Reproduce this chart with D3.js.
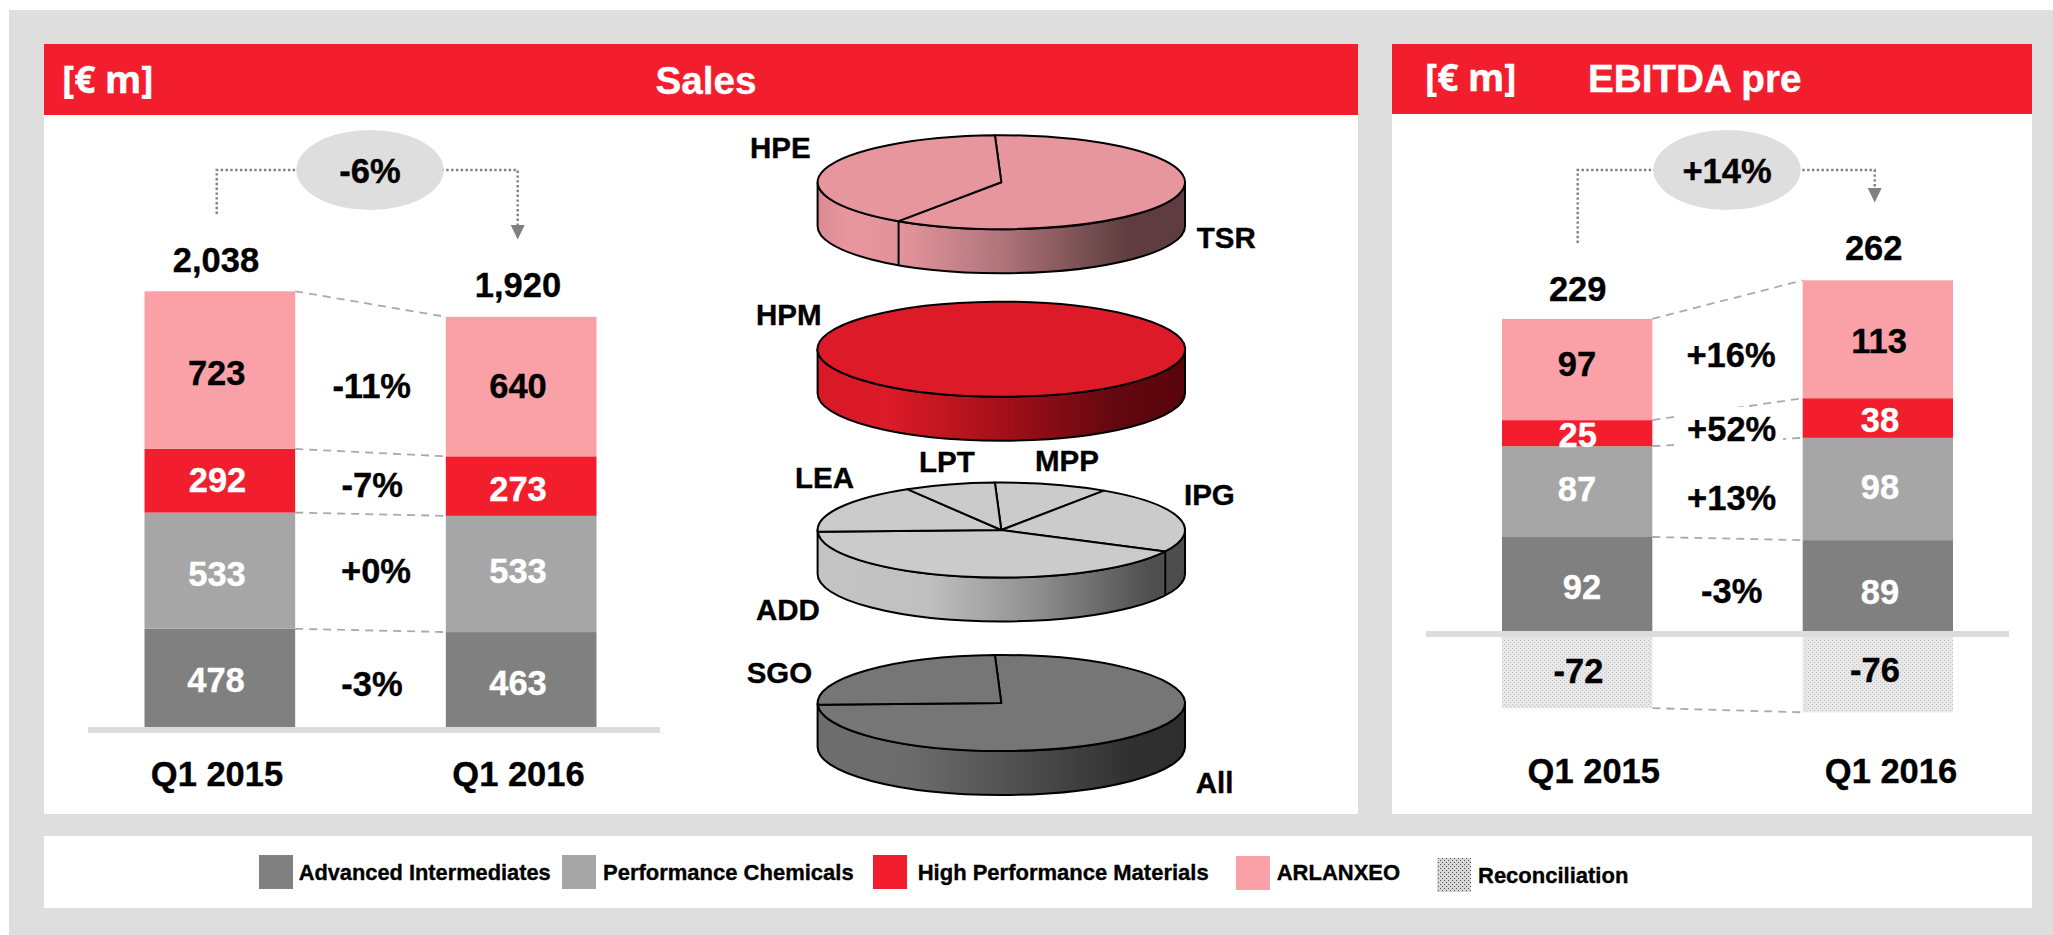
<!DOCTYPE html>
<html>
<head>
<meta charset="utf-8">
<script src="https://cdn.jsdelivr.net/npm/d3@7"></script>
<style>
html,body{margin:0;padding:0;background:#fff;overflow:hidden}
svg{display:block}
text{font-family:"Liberation Sans",Arial,sans-serif;font-weight:700;fill:#000}
</style>
</head>
<body>
<script>
// ---- data ----
const periods = ["Q1 2015", "Q1 2016"];
const segments = ["Advanced Intermediates", "Performance Chemicals", "High Performance Materials", "ARLANXEO"];
const salesAI = [478, 463];
const salesPC = [533, 533];
const salesHPM = [292, 273];
const salesARL = [723, 640];
const salesTotals = ["2,038", "1,920"];
const salesGrowth = ["-3%", "+0%", "-7%", "-11%"];
const salesChange = "-6%";
const ebitdaAI = [92, 89];
const ebitdaPC = [87, 98];
const ebitdaHPM = [25, 38];
const ebitdaARL = [97, 113];
const ebitdaRecon = [-72, -76];
const ebitdaTotals = ["229", "262"];
const ebitdaGrowth = ["-3%", "+13%", "+52%", "+16%"];
const ebitdaChange = "+14%";
const legendNames = ["Advanced Intermediates", "Performance Chemicals", "High Performance Materials", "ARLANXEO", "Reconciliation"];
// pie shares in percent, clockwise from the top
const pieHPE = [{k:"TSR", v:60}, {k:"HPE", v:40}];
const pieHPM = [{k:"HPM", v:100}];
const pieADD = [{k:"MPP", v:10}, {k:"IPG", v:23}, {k:"ADD", v:42}, {k:"LEA", v:17}, {k:"LPT", v:8}];
const pieAll = [{k:"All", v:75}, {k:"SGO", v:25}];

// ---- styles ----
const C = {bg:"#dedede", red:"#f31e2d", ai:"#808080", pc:"#a6a6a6", hpm:"#f31e2d", arl:"#faa1a7", dash:"#aaaaaa", dot:"#808080"};
const segColors = [C.ai, C.pc, C.hpm, C.arl];
const segText = ["#fff", "#fff", "#fff", "#000"];

const svg = d3.select("body").append("svg").attr("width", 2053).attr("height", 935);
const defs = svg.append("defs");

function hatch(id, bg, dot, size) {
  const p = defs.append("pattern").attr("id", id).attr("patternUnits", "userSpaceOnUse").attr("width", 4).attr("height", 4);
  p.append("rect").attr("width", 4).attr("height", 4).attr("fill", bg);
  p.append("rect").attr("x", 0).attr("y", 0).attr("width", size).attr("height", size).attr("fill", dot);
  p.append("rect").attr("x", 2).attr("y", 2).attr("width", size).attr("height", size).attr("fill", dot);
}
hatch("hatchBar", "#e8e8e8", "#c0c0c0", 1);
hatch("hatchKey", "#d8d8d8", "#4c4c4c", 1);

function rect(g, x0, y0, x1, y1, fill) {
  return g.append("rect").attr("x", x0).attr("y", y0).attr("width", x1 - x0).attr("height", y1 - y0).attr("fill", fill);
}
function label(g, t, x, y, o = {}) {
  const col = o.fill || "#000";
  return g.append("text").attr("x", x).attr("y", y).attr("text-anchor", o.anchor || "middle")
    .attr("font-size", o.size || 34.5).style("fill", col)
    .style("stroke", col).style("stroke-width", 0.35).text(t);
}

// ---- frame ----
rect(svg, 9, 10, 2053, 935, C.bg);
rect(svg, 44, 44, 1358, 814, "#fff");
rect(svg, 1392, 44, 2032, 814, "#fff");
rect(svg, 44, 836, 2032, 908, "#fff");
rect(svg, 44, 44, 1358, 115, C.red);
rect(svg, 1392, 44, 2032, 114, C.red);
const unit = {size: 37, anchor: "start", fill: "#fff"};
[[62, 93], [1425, 91]].forEach(p => {
  label(svg, "[€ m]", p[0], p[1], unit).style("font-family", '"Open Sans"').style("font-weight", 700);
});
label(svg, "Sales", 706, 94, {size: 38.7, fill: "#fff"});
label(svg, "EBITDA pre", 1588, 92, {size: 38.7, anchor: "start", fill: "#fff"});

// ---- stacked panels ----
function stacked(cfg) {
  const g = svg.append("g");
  const x = d3.scaleBand().domain(periods).range(cfg.xRange).paddingInner(0.5);
  const y = d3.scaleLinear().domain([0, cfg.domainMax]).range([cfg.y0, cfg.yTop]);
  const rows = periods.map((p, i) => {
    const r = {period: p};
    segments.forEach((s, j) => r[s] = cfg.series[j][i]);
    return r;
  });
  const layers = d3.stack().keys(segments)(rows);
  const [p0, p1] = periods;
  // connectors
  const dashLine = (a, b) => g.append("line")
    .attr("x1", x(p0) + x.bandwidth()).attr("x2", x(p1)).attr("y1", a).attr("y2", b)
    .attr("stroke", C.dash).attr("stroke-width", 1.8).attr("stroke-dasharray", "8,6");
  layers.forEach(l => dashLine(y(l[0][1]), y(l[1][1])));
  if (cfg.recon) dashLine(y(cfg.recon[0]), y(cfg.recon[1]));
  // bars
  layers.forEach((l, j) => {
    g.append("g").selectAll("rect").data(l).join("rect")
      .attr("x", d => x(d.data.period)).attr("width", x.bandwidth())
      .attr("y", d => y(d[1])).attr("height", d => y(d[0]) - y(d[1]))
      .attr("fill", segColors[j]);
  });
  if (cfg.recon) {
    g.append("g").selectAll("rect").data(cfg.recon).join("rect")
      .attr("x", (d, i) => x(periods[i])).attr("width", x.bandwidth())
      .attr("y", y(0)).attr("height", d => y(d) - y(0))
      .attr("fill", "url(#hatchBar)");
  }
  // baseline
  rect(g, cfg.axis[0], cfg.axisY[0], cfg.axis[1], cfg.axisY[1], "#dcdcdc");
  return {g, x, y};
}

const sales = stacked({
  xRange: [144.5, 596.5], domainMax: 2026, y0: 733, yTop: 291.3,
  series: [salesAI, salesPC, salesHPM, salesARL], axis: [88, 660], axisY: [727, 733]
});
const ebitda = stacked({
  xRange: [1502, 1953], domainMax: 301, y0: 633, yTop: 318.9,
  series: [ebitdaAI, ebitdaPC, ebitdaHPM, ebitdaARL], recon: ebitdaRecon,
  axis: [1426, 2009], axisY: [631, 637]
});
// white plate behind +52%
rect(ebitda.g, 1674, 407, 1783, 447, "#fff");

// value labels: [x, baseline] per bar for each segment
const salesLabelPos = [
  [[216, 692.3], [518, 695]], [[217, 585.7], [518, 582.7]],
  [[217.5, 491.7], [518, 500.7]], [[216.7, 385], [518, 398.3]]
];
const ebitdaLabelPos = [
  [[1582, 599], [1880, 604]], [[1577, 500.7], [1880, 498.7]],
  [[1577.7, 446.7], [1880, 431.7]], [[1577, 376], [1879, 352.7]]
];
[[sales, [salesAI, salesPC, salesHPM, salesARL], salesLabelPos],
 [ebitda, [ebitdaAI, ebitdaPC, ebitdaHPM, ebitdaARL], ebitdaLabelPos]].forEach(([chart, ser, pos]) => {
  ser.forEach((s, j) => s.forEach((v, i) => label(chart.g, v, pos[j][i][0], pos[j][i][1], {fill: segText[j]})));
});
ebitdaRecon.forEach((v, i) => label(ebitda.g, v, [1578.5, 1875][i], [682.7, 681.7][i]));

const salesGrowthPos = [[372, 695.7], [376, 583.3], [372.3, 497.3], [371.7, 398.3]];
salesGrowth.forEach((t, i) => label(sales.g, t, salesGrowthPos[i][0], salesGrowthPos[i][1]));
const ebitdaGrowthPos = [[1731.7, 602.7], [1731.7, 510], [1731.7, 440.7], [1731, 366.7]];
ebitdaGrowth.forEach((t, i) => label(ebitda.g, t, ebitdaGrowthPos[i][0], ebitdaGrowthPos[i][1]));

salesTotals.forEach((t, i) => label(sales.g, t, [216, 518][i], [271.7, 296.7][i]));
ebitdaTotals.forEach((t, i) => label(ebitda.g, t, [1577.7, 1873.7][i], [300.7, 260][i]));
periods.forEach((t, i) => {
  label(sales.g, t, [217, 518.5][i], 786);
  label(ebitda.g, t, [1593.8, 1891][i], 782.7);
});

// ---- change bubbles ----
function bubble(t, cx, xL, yL, xR, yArrow) {
  const g = svg.append("g");
  const cy = 170;
  g.append("path").attr("d", `M${xL},${yL}V${cy}H${cx}H${xR}V${yArrow}`)
    .attr("fill", "none").attr("stroke", C.dot).attr("stroke-width", 2.4).attr("stroke-dasharray", "2.4,2.4");
  g.append("path").attr("d", `M${xR - 7},${yArrow}H${xR + 7}L${xR},${yArrow + 14.5}Z`).attr("fill", C.dot);
  g.append("ellipse").attr("cx", cx).attr("cy", cy).attr("rx", 73.7).attr("ry", 40).attr("fill", C.bg);
  label(g, t, cx, 182.7);
}
bubble(salesChange, 370, 216.7, 214, 517.7, 225);
bubble(ebitdaChange, 1727, 1577.7, 243, 1874.7, 188);

// ---- 3D pies ----
const rad = 183.7, depth = 44, pcx = 1001.3;
const startAngle = -2 * Math.PI / 180;
function pie3d(id, data, cy, ry, top, stops) {
  const g = svg.append("g");
  const arcs = d3.pie().sort(null).value(d => d.v).startAngle(startAngle).endAngle(startAngle + 2 * Math.PI)(data);
  const grad = defs.append("linearGradient").attr("id", id).attr("gradientUnits", "userSpaceOnUse")
    .attr("x1", pcx - rad).attr("x2", pcx + rad).attr("y1", 0).attr("y2", 0);
  stops.forEach(s => grad.append("stop").attr("offset", s[0]).attr("stop-color", s[1]));
  const sw = 2;
  g.append("path")
    .attr("d", `M${pcx - rad},${cy}A${rad},${ry} 0 0 0 ${pcx + rad},${cy}V${cy + depth}A${rad},${ry} 0 0 1 ${pcx - rad},${cy + depth}Z`)
    .attr("fill", `url(#${id})`).attr("stroke", "#000").attr("stroke-width", sw).attr("stroke-linejoin", "round");
  // slice edges running down the front wall
  if (arcs.length > 1) arcs.forEach(a => {
    if (Math.cos(a.startAngle) < -0.1) {
      const ex = pcx + rad * Math.sin(a.startAngle), ey = cy - ry * Math.cos(a.startAngle);
      g.append("line").attr("x1", ex).attr("x2", ex).attr("y1", ey).attr("y2", ey + depth)
        .attr("stroke", "#000").attr("stroke-width", sw);
    }
  });
  const arc = d3.arc().innerRadius(0).outerRadius(rad);
  g.append("g").attr("transform", `translate(${pcx},${cy}) scale(1,${ry / rad})`)
    .selectAll("path").data(arcs).join("path")
    .attr("d", arc).attr("fill", top).attr("stroke", "#000").attr("stroke-width", sw)
    .attr("stroke-linejoin", "round").attr("vector-effect", "non-scaling-stroke");
}
pie3d("sideHPE", pieHPE, 182.2, 47, "#e8969e", [[0, "#d98a92"], [0.08, "#e8969e"], [0.25, "#e0929a"], [0.5, "#b0747b"], [0.75, "#724c4f"], [0.85, "#5e3c3f"], [1, "#5e3c3f"]]);
pie3d("sideHPM", pieHPM, 349.2, 47.5, "#dc1a28", [[0, "#d81926"], [0.2, "#dc1a28"], [0.5, "#a51019"], [0.8, "#640810"], [1, "#58040b"]]);
pie3d("sideADD", pieADD, 530, 47.5, "#cbcbcb", [[0, "#c4c4c4"], [0.3, "#c0c0c0"], [0.6, "#8e8e8e"], [0.9, "#505050"], [1, "#4c4c4c"]]);
pie3d("sideAll", pieAll, 703, 48, "#767676", [[0, "#6e6e6e"], [0.25, "#6c6c6c"], [0.6, "#4a4a4a"], [0.85, "#303030"], [1, "#2e2e2e"]]);

const pieLabels = ["HPE", "TSR", "HPM", "LEA", "LPT", "MPP", "IPG", "ADD", "SGO", "All"];
const pieLabelPos = [[750, 158.3], [1196.7, 248.3], [756, 325], [795, 488.3], [919, 472.3], [1035, 470.7], [1184, 505], [756, 620], [746.7, 683.3], [1195.7, 793.3]];
pieLabels.forEach((t, i) => label(svg, t, pieLabelPos[i][0], pieLabelPos[i][1], {size: 29.5, anchor: "start"}));

// ---- legend ----
const keyFill = [C.ai, C.pc, C.hpm, C.arl, "url(#hatchKey)"];
const keyPos = [[259, 855, 298.7, 880], [562, 855, 603, 880], [873, 855, 917.7, 880], [1236, 856, 1276.7, 880], [1437, 858, 1478, 883]];
const keySize = [21.8, 22, 22, 22, 22];
const legend = svg.append("g");
legendNames.forEach((n, i) => {
  const k = keyPos[i];
  rect(legend, k[0], k[1], k[0] + 34, k[1] + 34, keyFill[i]);
  label(legend, n, k[2], k[3], {size: keySize[i], anchor: "start"});
});
</script>
</body>
</html>
